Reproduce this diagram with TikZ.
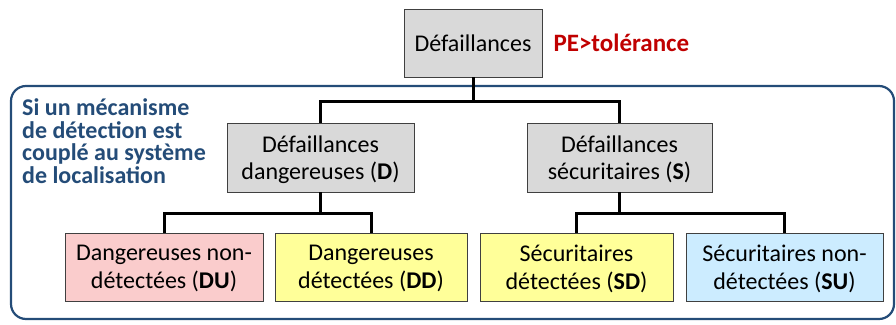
\documentclass[tikz,border=0pt]{standalone}
\usepackage{fontspec}
\setmainfont{Carlito}
\definecolor{boxgray}{RGB}{217,217,217}
\definecolor{boxpink}{RGB}{250,204,204}
\definecolor{boxyellow}{RGB}{255,255,153}
\definecolor{boxblue}{RGB}{204,236,255}
\definecolor{framblue}{RGB}{36,76,120}
\definecolor{pered}{RGB}{192,0,0}
\tikzset{
  fbox/.style={draw=black!75, line width=0.8pt, align=center, inner sep=0pt,
    minimum height=68pt, text depth=0pt, font=\fontsize{24}{27.5}\selectfont},
  tree/.style={line width=3pt},
  frame/.style={draw=framblue, line width=2.2pt, rounded corners=15pt}
}
\begin{document}
\begin{tikzpicture}[x=1pt, y=-1pt]
            \useasboundingbox (0, 0) rectangle (896, 324);
            \draw[frame] (11, 86) rectangle (894, 319);
            \node[fbox, fill=boxgray, minimum width=138pt] (top) at (473, 43) {Défaillances};
            \node[anchor=west, text=pered, font=\bfseries\fontsize{25}{27}\selectfont] (pe) at (550, 43) {PE>tolérance};
            \node[anchor=north west, inner sep=0pt, align=left, text=framblue,
              font=\bfseries\fontsize{24}{22.7}\selectfont] (cond) at (22, 98.5)
              {Si un mécanisme\\de détection est\\couplé au système\\de localisation};
            \node[fbox, fill=boxgray, minimum width=187pt, minimum height=69pt] (D) at (320.5, 157.5)
              {Défaillances\\dangereuses (\textbf{D})};
            \node[fbox, fill=boxgray, minimum width=185pt, minimum height=69pt] (S) at (619.5, 157.5)
              {Défaillances\\sécuritaires (\textbf{S})};
            \node[fbox, fill=boxpink, minimum width=198pt] (DU) at (164, 267)
              {Dangereuses non-\\détectées (\textbf{DU})};
            \node[fbox, fill=boxyellow, minimum width=192pt] (DD) at (371, 267)
              {Dangereuses\\détectées (\textbf{DD})};
            \node[fbox, fill=boxyellow, minimum width=193pt] (SD) at (576.5, 267)
              {Sécuritaires\\détectées (\textbf{SD})};
            \node[fbox, fill=boxblue, minimum width=197pt] (SU) at (784.5, 267)
              {Sécuritaires non-\\détectées (\textbf{SU})};
            % branches
            \coordinate (jtop) at (top.south |- 0, 101);
            \coordinate (jD) at (D.south |- 0, 213);
            \coordinate (jS) at (S.south |- 0, 213);
            \draw[tree] (top.south) -- (jtop);
            \draw[tree] (D.north) |- (jtop) -| (S.north);
            \draw[tree] (D.south) -- (jD);
            \draw[tree] (DU.north) |- (jD) -| (DD.north);
            \draw[tree] (S.south) -- (jS);
            \draw[tree] (SD.north) |- (jS) -| (SU.north);
          \end{tikzpicture}
\end{document}
